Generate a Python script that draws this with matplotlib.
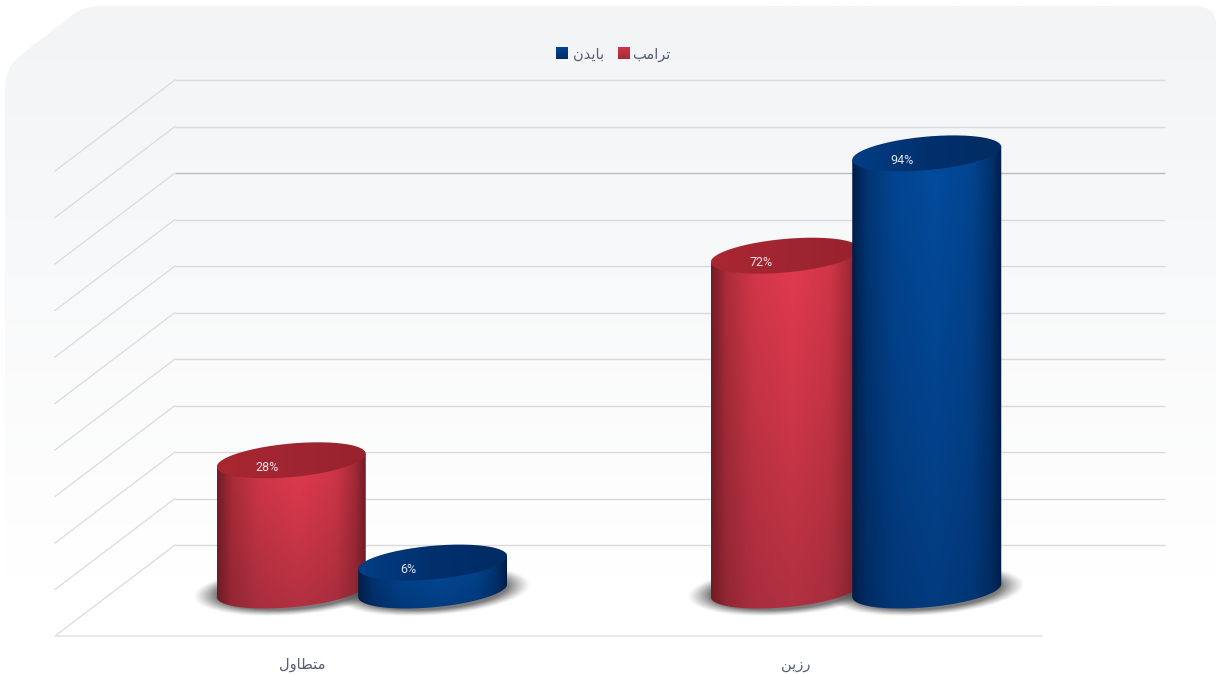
import numpy as np
import matplotlib
matplotlib.use("Agg")
import matplotlib.pyplot as plt
from matplotlib.patches import PathPatch
from matplotlib.path import Path

categories = ["متطاول", "رزين"]
series_names = ["ترامب", "بايدن"]
trump_values = [28, 72]
biden_values = [6, 94]
grid_ticks = [0, 10, 20, 30, 40, 50, 60, 70, 80, 90, 100]

W, H = 1216, 675
Y_SCALE = 4.65   # px per percent
X_SCALE = 494    # px per category
ZERO_PX = 590.5  # y of value 0 on the plane the cylinders stand on
CAT0_PX = 362

DEPTH_X = 60 / X_SCALE
DEPTH_Y = 45.5 / Y_SCALE
BAR_OFFSET = 70.75 / X_SCALE
HALF_W = 74.5 / X_SCALE
ELL_B = 16.8 / Y_SCALE
ELL_RISE = 6.5 / Y_SCALE

# (isolated, final, initial, medial) presentation forms, matplotlib does no shaping
FORMS = {
    "ا": (0xFE8D, 0xFE8E), "د": (0xFEA9, 0xFEAA), "ر": (0xFEAD, 0xFEAE),
    "ز": (0xFEAF, 0xFEB0), "و": (0xFEED, 0xFEEE),
    "ب": (0xFE8F, 0xFE90, 0xFE91, 0xFE92), "ت": (0xFE95, 0xFE96, 0xFE97, 0xFE98),
    "ط": (0xFEC1, 0xFEC2, 0xFEC3, 0xFEC4), "ل": (0xFEDD, 0xFEDE, 0xFEDF, 0xFEE0),
    "م": (0xFEE1, 0xFEE2, 0xFEE3, 0xFEE4), "ن": (0xFEE5, 0xFEE6, 0xFEE7, 0xFEE8),
    "ي": (0xFEF1, 0xFEF2, 0xFEF3, 0xFEF4),
}


def shape_arabic(word):
    """Pick joined letter forms and return the word in drawing order."""
    out = []
    for i, ch in enumerate(word):
        forms = FORMS[ch]
        after_joiner = i > 0 and len(FORMS[word[i - 1]]) == 4
        before_letter = i < len(word) - 1 and len(forms) == 4
        if after_joiner and before_letter:
            code = forms[3]
        elif before_letter:
            code = forms[2]
        elif after_joiner:
            code = forms[1]
        else:
            code = forms[0]
        out.append(chr(code))
    return "".join(reversed(out))


def gradient_rgba(stops, t):
    """Interpolate hex colour stops [(pos, colour), ...] at positions t."""
    pos = [s[0] for s in stops]
    rgb = np.array([matplotlib.colors.to_rgb(s[1]) for s in stops])
    return np.stack([np.interp(t, pos, rgb[:, k]) for k in range(3)], axis=-1)


def ellipse_points(cx, cy, t):
    return np.column_stack([cx + HALF_W * np.cos(t),
                            cy + ELL_RISE * np.cos(t) + ELL_B * np.sin(t)])


def draw_shadow(ax, cx):
    # soft grey ellipse on the floor under a cylinder
    a, b = 98 / X_SCALE, 25 / Y_SCALE
    xs = np.linspace(cx - a, cx + a, 260)
    ys = np.linspace(-b - 2, b + 2, 90)
    xx, yy = np.meshgrid(xs, ys)
    r = np.hypot((xx - cx) / a, (yy - 1.3 * (xx - cx) / a) / b)
    alpha = np.clip((1.0 - r) / 0.24, 0, 1) ** 1.2 * 0.72
    img = np.zeros(xx.shape + (4,))
    img[..., :3] = 0.28
    img[..., 3] = alpha
    ax.imshow(img, extent=(xs[0], xs[-1], ys[0], ys[-1]), origin="lower",
              aspect="auto", zorder=3, interpolation="bilinear")


def draw_cylinder(ax, cx, value, side_top, side_bottom, edge, cap_stops, z):
    # body: horizontal shading across the width, darkening toward the base
    t_low = np.linspace(np.pi, 2 * np.pi, 80)
    low = ellipse_points(cx, 0, t_low)
    outline = np.vstack([[cx - HALF_W, value - ELL_RISE], low,
                         [cx + HALF_W, value + ELL_RISE], [cx - HALF_W, value - ELL_RISE]])
    body_path = PathPatch(Path(outline), transform=ax.transData, fc="none", ec="none")
    ax.add_patch(body_path)
    u = np.linspace(0, 1, 200)
    v = np.linspace(0, 1, 160)
    uu, vv = np.meshgrid(u, v)
    shade = np.interp(uu, [0, 0.1, 0.28, 0.55, 0.8, 0.93, 1.0],
                      [0.0, 0.52, 0.86, 1.0, 0.85, 0.45, 0.0])
    bright = gradient_rgba([(0, side_bottom), (1, side_top)], vv)
    dark = np.array(matplotlib.colors.to_rgb(edge))
    img = dark + (bright - dark) * shade[..., None]
    y0 = -ELL_B - ELL_RISE
    im = ax.imshow(img, extent=(cx - HALF_W, cx + HALF_W, y0, value + ELL_RISE), origin="lower",
                   aspect="auto", zorder=z, interpolation="bilinear")
    im.set_clip_path(body_path)
    # top cap
    t_cap = np.linspace(0, 2 * np.pi, 160)
    cap_path = PathPatch(Path(ellipse_points(cx, value, t_cap)), transform=ax.transData,
                         fc="none", ec="none")
    ax.add_patch(cap_path)
    cap_img = gradient_rgba(cap_stops, np.linspace(0, 1, 100))[None, ...]
    top = value + ELL_B + ELL_RISE
    bot = value - ELL_B - ELL_RISE
    cap = ax.imshow(cap_img, extent=(cx - HALF_W, cx + HALF_W, bot, top), origin="lower",
                    aspect="auto", zorder=z + 0.1, interpolation="bilinear")
    cap.set_clip_path(cap_path)


fig = plt.figure(figsize=(W / 100, H / 100), dpi=100, facecolor="white")

# page-space layer: card background and legend
deco = fig.add_axes([0, 0, 1, 1], zorder=0)
deco.set_xlim(0, W)
deco.set_ylim(H, 0)
deco.axis("off")

card_verts = [(5, H), (5, 92), (5, 72), (11, 63), (20, 56), (72, 15), (80, 9), (90, 6), (102, 6),
              (1194, 6), (1208, 6), (1216, 12), (1216, 24), (W + 2, H), (5, H)]
card_codes = [Path.MOVETO, Path.LINETO, Path.CURVE4, Path.CURVE4, Path.CURVE4, Path.LINETO,
              Path.CURVE4, Path.CURVE4, Path.CURVE4, Path.LINETO, Path.CURVE4, Path.CURVE4,
              Path.CURVE4, Path.LINETO, Path.CLOSEPOLY]
card = PathPatch(Path(card_verts, card_codes), fc="none", ec="none", transform=deco.transData)
deco.add_patch(card)
bg = gradient_rgba([(0, "#f3f4f6"), (0.4, "#f8f9fa"), (0.85, "#ffffff"), (1, "#ffffff")],
                   np.linspace(0, 1, 300))[:, None, :]
bg_im = deco.imshow(bg, extent=(0, W, H, 6), aspect="auto", zorder=0)
bg_im.set_clip_path(card)

legend_colors = [("#d03547", "#a32a37"), ("#03428f", "#012e68")]
legend_boxes = [(617.5, 632.5), (556, 572.5)]
for name, (c_top, c_bot), (x_box, x_txt) in zip(series_names, legend_colors, legend_boxes):
    swatch = gradient_rgba([(0, c_top), (1, c_bot)], np.linspace(0, 1, 12))[:, None, :]
    deco.imshow(swatch, extent=(x_box, x_box + 11.5, 59.5, 48), aspect="auto", zorder=2)
    deco.text(x_txt, 54, shape_arabic(name), fontsize=10.5, color="#56607a",
              family="DejaVu Sans", ha="left", va="center", zorder=2)
deco.set_xlim(0, W)
deco.set_ylim(H, 0)

# chart layer: x in category units, y in percent
ax = fig.add_axes([0, 0, 1, 1], zorder=1)
ax.patch.set_alpha(0)
ax.axis("off")
xlim = ((0 - CAT0_PX) / X_SCALE, (W - CAT0_PX) / X_SCALE)
ylim = ((ZERO_PX - H) / Y_SCALE, ZERO_PX / Y_SCALE)

x_left = -0.5
x_right = len(categories) - 0.5
for tick in grid_ticks:
    color = "#b9babc" if tick == 80 else "#d9dadb"
    back_y = tick + DEPTH_Y
    front_y = tick - DEPTH_Y
    ax.plot([x_left + DEPTH_X, x_right + DEPTH_X + 2 / X_SCALE], [back_y, back_y], color=color, lw=1.0,
            zorder=1, solid_capstyle="butt")
    ax.plot([x_left - DEPTH_X, x_left + DEPTH_X], [front_y, back_y], color="#dadbdc", lw=0.9, zorder=1)
ax.plot([x_left - DEPTH_X, x_right - DEPTH_X], [-DEPTH_Y, -DEPTH_Y], color="#e8e8ee", lw=1.4, zorder=1,
        solid_capstyle="butt")

red_style = ("#e33b4e", "#b03040", "#701c25", [(0, "#a9272f"), (0.5, "#a02533"), (1, "#98222e")])
blue_style = ("#034c9e", "#023b7e", "#011d47", [(0, "#023e85"), (0.5, "#02306d"), (1, "#012c63")])

for i in range(len(categories)):
    draw_shadow(ax, i - BAR_OFFSET)
    draw_shadow(ax, i + BAR_OFFSET)
for i in range(len(categories)):
    draw_cylinder(ax, i - BAR_OFFSET, trump_values[i], red_style[0], red_style[1], red_style[2],
                  red_style[3], 4)
    draw_cylinder(ax, i + BAR_OFFSET, biden_values[i], blue_style[0], blue_style[1], blue_style[2],
                  blue_style[3], 5)
    ax.text(i - BAR_OFFSET - 0.048, trump_values[i] - 1.5, f"{trump_values[i]}%", fontsize=9,
            family="Roboto", color="#f4e4e6", ha="center", va="center", zorder=7)
    ax.text(i + BAR_OFFSET - 0.05, biden_values[i] - 1.5, f"{biden_values[i]}%", fontsize=9,
            family="Roboto", color="#dfe6f0", ha="center", va="center", zorder=7)
    ax.text(i - DEPTH_X, (ZERO_PX - 664.5) / Y_SCALE, shape_arabic(categories[i]), fontsize=10.5,
            family="DejaVu Sans", color="#56607a", ha="center", va="center", zorder=7)

ax.set_xlim(*xlim)
ax.set_ylim(*ylim)

fig.savefig("out.png", dpi=100, facecolor="white")
